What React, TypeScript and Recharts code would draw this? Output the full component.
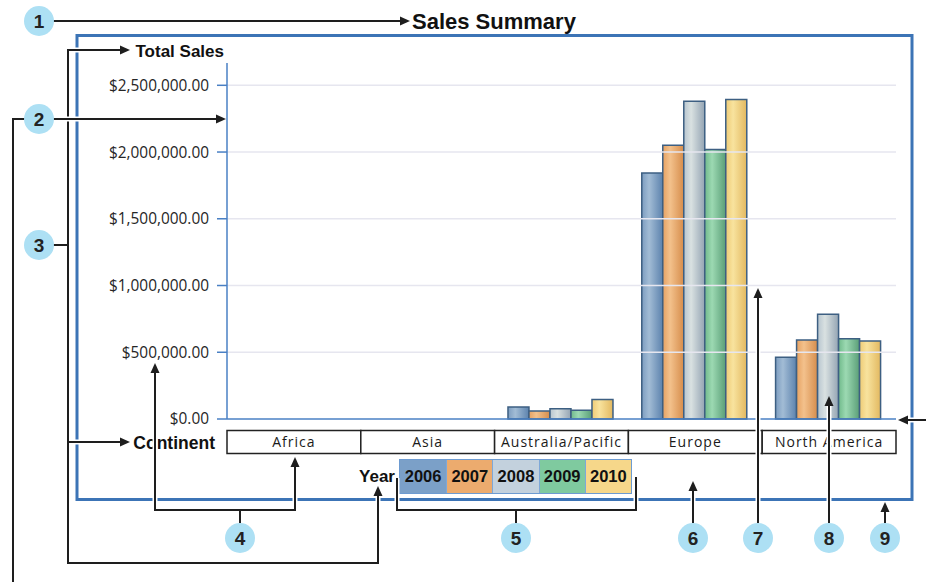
import React from 'react';
import { BarChart, Bar, XAxis, YAxis, ReferenceLine, Legend } from 'recharts';

const continents = ['Africa', 'Asia', 'Australia/Pacific', 'Europe', 'North America'];
const years = ['2006', '2007', '2008', '2009', '2010'];
const sales2006 = [0, 0, 90000, 1843000, 462000];
const sales2007 = [0, 0, 60000, 2051000, 591000];
const sales2008 = [0, 0, 77000, 2380000, 784000];
const sales2009 = [0, 0, 65000, 2019000, 601000];
const sales2010 = [0, 0, 147000, 2393000, 584000];
const yTicks = [0, 500000, 1000000, 1500000, 2000000, 2500000];
const yMax = 2667000;

const seriesValues = [sales2006, sales2007, sales2008, sales2009, sales2010];
const data = continents.map((c, i) => {
  const row: any = { continent: c };
  years.forEach((y, k) => { row[y] = seriesValues[k][i]; });
  return row;
});

const W = 926, H = 582;
const PLOT_LEFT = 227, PLOT_RIGHT = 896, PLOT_TOP = 63, PLOT_BOTTOM = 419;
const Y_AXIS_W = 140;
const X_AXIS_H = 40;
const BAND = (PLOT_RIGHT - PLOT_LEFT) / continents.length;

const legendColors = ['#7ba0c8', '#ecab6e', '#c3d1dd', '#7fca9f', '#f6d78a'];
const barGradients = [
  ['#7d9dc0', '#a2bcd5', '#5c82ad'],
  ['#e6a263', '#f3c18c', '#d68d4c'],
  ['#b7c5cf', '#d9e1e1', '#94a4b3'],
  ['#70ba8b', '#9cd9b2', '#5a9e77'],
  ['#eecb76', '#f8e39e', '#e2b860'],
];
const BLUE = '#4a80c4';
const FRAME = '#3c74b6';
const INK = '#1e1e1e';
const SANS = '"Liberation Sans", Arial, sans-serif';
const OPEN = '"Open Sans", "DejaVu Sans", sans-serif';

const money = (v: number) => {
  const s = Math.round(v).toString().replace(/\B(?=(\d{3})+(?!\d))/g, ',');
  return '$' + s + '.00';
};

const CategoryTick = (props: any) => {
  const { x, y, payload } = props;
  return (
    <g>
      <rect x={x - BAND / 2} y={y + 11.5} width={BAND} height={23} fill="#fff" stroke="#222" strokeWidth={1.5} />
      <text x={x} y={y + 28} textAnchor="middle" fontFamily={OPEN} fontSize={14} letterSpacing={1.0} fill="#1a1a1a">
        {payload.value}
      </text>
    </g>
  );
};

const TotalSalesLabel = (props: any) => {
  const vb = props.viewBox || { x: PLOT_LEFT - Y_AXIS_W, y: PLOT_TOP, width: Y_AXIS_W };
  return (
    <text x={vb.x + vb.width - 3} y={vb.y - 6.5} textAnchor="end" fontFamily={SANS} fontWeight="bold" fontSize={17} fill="#111">
      Total Sales
    </text>
  );
};

const ContinentLabel = (props: any) => {
  const vb = props.viewBox || { x: PLOT_LEFT, y: PLOT_BOTTOM };
  return (
    <text x={vb.x - 12} y={vb.y + 30} textAnchor="end" fontFamily={SANS} fontWeight="bold" fontSize={17.5} fill="#111">
      Continent
    </text>
  );
};

const YearLegend = () => (
  <div style={{ display: 'flex', alignItems: 'center', height: 35, fontFamily: SANS, fontWeight: 'bold' }}>
    <span style={{ width: 59, textAlign: 'right', paddingRight: 4, boxSizing: 'border-box', fontSize: 17, color: '#111' }}>Year</span>
    <div style={{ display: 'flex', border: '1.5px solid #6d9bd1', height: 35, boxSizing: 'border-box' }}>
      {years.map((yr, i) => (
        <div
          key={yr}
          style={{
            width: 46.2,
            boxSizing: 'border-box',
            background: legendColors[i],
            borderLeft: i ? '1px solid #7ea8d8' : 'none',
            display: 'flex',
            alignItems: 'center',
            justifyContent: 'center',
            fontSize: 16.5,
            color: '#111',
          }}
        >
          {yr}
        </div>
      ))}
    </div>
  </div>
);

type Pt = [number, number];
const arrowHead = (tip: Pt, dir: 'up' | 'right' | 'left') => {
  const [x, y] = tip;
  const L = 10, h = 4.5;
  let pts: Pt[];
  if (dir === 'up') pts = [[x, y], [x - h, y + L], [x + h, y + L]];
  else if (dir === 'right') pts = [[x, y], [x - L, y - h], [x - L, y + h]];
  else pts = [[x, y], [x + L, y - h], [x + L, y + h]];
  return pts.map((p) => p.join(',')).join(' ');
};

type Ann = { d: string; heads: { tip: Pt; dir: 'up' | 'right' | 'left' }[] };
const annotations: Ann[] = [
  { d: 'M53,21 H402', heads: [{ tip: [410, 21], dir: 'right' }] },
  { d: 'M53,245 H68 M122,50 H68 V563 H378 V495 M68,442 H122', heads: [{ tip: [130, 50], dir: 'right' }, { tip: [378, 486], dir: 'up' }, { tip: [130, 442], dir: 'right' }] },
  { d: 'M25,119 H13 V582 M53,119 H218', heads: [{ tip: [226, 119], dir: 'right' }] },
  { d: 'M240,523 V510 M155,372 V510 H295 V466', heads: [{ tip: [155, 363], dir: 'up' }, { tip: [295, 457], dir: 'up' }] },
  { d: 'M516,523 V510 M397,478 V510 H636 V477', heads: [] },
  { d: 'M693,523 V490', heads: [{ tip: [693, 481], dir: 'up' }] },
  { d: 'M758,523 V297', heads: [{ tip: [758, 288], dir: 'up' }] },
  { d: 'M829,523 V405', heads: [{ tip: [829, 396], dir: 'up' }] },
  { d: 'M885,523 V510', heads: [{ tip: [885, 502], dir: 'up' }] },
  { d: 'M926,420 H906', heads: [{ tip: [898, 420], dir: 'left' }] },
];
const callouts: { n: string; c: Pt }[] = [
  { n: '1', c: [39, 21] },
  { n: '2', c: [39, 119] },
  { n: '3', c: [39, 245] },
  { n: '4', c: [240, 538] },
  { n: '5', c: [516, 538] },
  { n: '6', c: [693, 538] },
  { n: '7', c: [758, 538] },
  { n: '8', c: [829, 538] },
  { n: '9', c: [885, 538] },
];

export default function App() {
  return (
    <div style={{ position: 'absolute', left: 0, top: 0, width: W, height: H, background: '#fff' }}>
      <BarChart
        width={W}
        height={H}
        data={data}
        margin={{ top: PLOT_TOP, right: W - PLOT_RIGHT, left: PLOT_LEFT - Y_AXIS_W, bottom: H - PLOT_BOTTOM - X_AXIS_H }}
        barCategoryGap="10%"
        barGap={0}
      >
        <defs>
          {years.map((yr, i) => (
            <linearGradient key={yr} id={'g' + yr} x1="0" y1="0" x2="1" y2="0">
              <stop offset="0%" stopColor={barGradients[i][0]} />
              <stop offset="35%" stopColor={barGradients[i][1]} />
              <stop offset="100%" stopColor={barGradients[i][2]} />
            </linearGradient>
          ))}
        </defs>
        {yTicks.filter((t) => t > 0).map((t) => (
          <ReferenceLine key={t} y={t} stroke="#e6e6ef" strokeWidth={1.5} />
        ))}
        <XAxis
          dataKey="continent"
          height={X_AXIS_H}
          axisLine={{ stroke: BLUE, strokeWidth: 1.5 }}
          tickLine={false}
          tickSize={0}
          tickMargin={0}
          interval={0}
          tick={<CategoryTick />}
          label={ContinentLabel}
        />
        <YAxis
          width={Y_AXIS_W}
          domain={[0, yMax]}
          ticks={yTicks}
          tickFormatter={money}
          axisLine={{ stroke: BLUE, strokeWidth: 1.5 }}
          tickLine={{ stroke: BLUE, strokeWidth: 1.5 }}
          tickSize={10}
          tickMargin={8}
          tick={{ fill: '#262626', fontSize: 15.4, fontFamily: OPEN }}
          label={TotalSalesLabel}
        />
        <Legend
          layout="vertical"
          align="center"
          verticalAlign="middle"
          content={YearLegend}
          wrapperStyle={{ position: 'absolute', left: 340, top: 459, width: 300, height: 35 }}
        />
        {years.map((yr) => (
          <Bar
            key={yr}
            dataKey={yr}
            name={yr}
            fill={'url(#g' + yr + ')'}
            stroke="#3d5f82"
            strokeWidth={1.5}
            isAnimationActive={false}
          />
        ))}
      </BarChart>
      <svg width={W} height={H} style={{ position: 'absolute', left: 0, top: 0, pointerEvents: 'none' }}>
        <text x={412} y={28.5} fontFamily={SANS} fontWeight="bold" fontSize={22} fill="#111">Sales Summary</text>
        <rect x={77} y={35.5} width={835} height={464} fill="none" stroke={FRAME} strokeWidth={3} />
        {annotations.map((a, i) => (
          <g key={i}>
            <path d={a.d} fill="none" stroke="#fff" strokeWidth={5} />
            <path d={a.d} fill="none" stroke={INK} strokeWidth={2} />
            {a.heads.map((h, k) => (
              <polygon key={k} points={arrowHead(h.tip, h.dir)} fill={INK} />
            ))}
          </g>
        ))}
        {callouts.map((c) => (
          <g key={c.n}>
            <circle cx={c.c[0]} cy={c.c[1]} r={15} fill="#ade0f4" />
            <text x={c.c[0]} y={c.c[1] + 6.5} textAnchor="middle" fontFamily={SANS} fontWeight="bold" fontSize={19} fill="#222">
              {c.n}
            </text>
          </g>
        ))}
      </svg>
    </div>
  );
}
